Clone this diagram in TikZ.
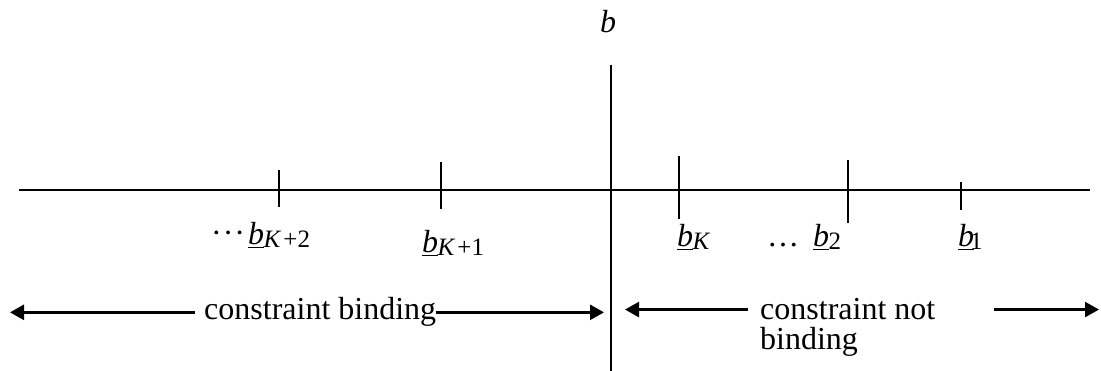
\documentclass[tikz,border=0pt]{standalone}
\usepackage{fontspec}
\setmainfont{Liberation Serif}
\usetikzlibrary{arrows.meta}
\newcommand{\lowb}[2][-0.5pt]{\underline{\textit{b}}\kern#1\raisebox{-3pt}{\fontsize{25}{25}\selectfont #2}}
\newcommand{\middots}{\raisebox{1pt}{·\kern1pt·\kern1pt·}}
\begin{document}
\begin{tikzpicture}[x=1pt,y=-1pt]
\tikzset{
  lbl/.style={inner sep=0pt, anchor=base west, font=\fontsize{32}{38}\selectfont},
  axisline/.style={line width=2pt},
  vline/.style={line width=1.4pt},
  tickline/.style={line width=2pt},
  arr/.style={line width=2.5pt, -{Triangle[length=14pt,width=15pt]}},
}
\useasboundingbox (0,0) rectangle (1101,371);
% axes
\coordinate (axL) at (19,190);
\coordinate (axR) at (1090,190);
\coordinate (vT) at (611,65);
\coordinate (vB) at (611,371);
\draw[axisline] (axL) -- (axR);
\draw[vline] (vT) -- (vB);
\node[lbl] (bb) at (600,33) {\textit{b}};
% ticks
\coordinate (t1a) at (279,170); \coordinate (t1b) at (279,207);
\coordinate (t2a) at (441,162); \coordinate (t2b) at (441,209);
\coordinate (t3a) at (679,156); \coordinate (t3b) at (679,219);
\coordinate (t4a) at (848,160); \coordinate (t4b) at (848,223);
\coordinate (t5a) at (961,182); \coordinate (t5b) at (961,210);
\foreach \t in {1,...,5} \draw[tickline] (t\t a) -- (t\t b);
% labels
\node[lbl] (l1) at (211,245) {\middots\kern3pt\lowb{\textit{K}\kern2pt+2}};
\node[lbl] (l2) at (422,253) {\lowb{\textit{K}\kern2pt+1}};
\node[lbl] (l3) at (677,247) {\lowb{\textit{K}}};
\node[lbl] (l4) at (767,247) {…\kern14pt\lowb{2}};
\node[lbl] (l5) at (958,247) {\lowb[-4pt]{1}};
% bottom texts
\node[lbl] (cb) at (204,320) {constraint binding};
\node[lbl] (cn) at (760,320) {constraint not};
\node[lbl] (bd) at (760,350) {binding};
\coordinate (leftend) at (10,0);
\coordinate (midL) at (604,0);
\coordinate (midR) at (625,0);
\coordinate (rs) at (994,0);
\coordinate (re) at (1099,0);
\draw[arr] ([xshift=-9pt]cb.west) -- (cb.west -| leftend);
\draw[arr] (cb.east) -- (cb.east -| midL);
\draw[arr] ([xshift=-12pt]cn.west) -- (cn.west -| midR);
\draw[arr] (cn.west -| rs) -- (cn.west -| re);
\end{tikzpicture}
\end{document}
